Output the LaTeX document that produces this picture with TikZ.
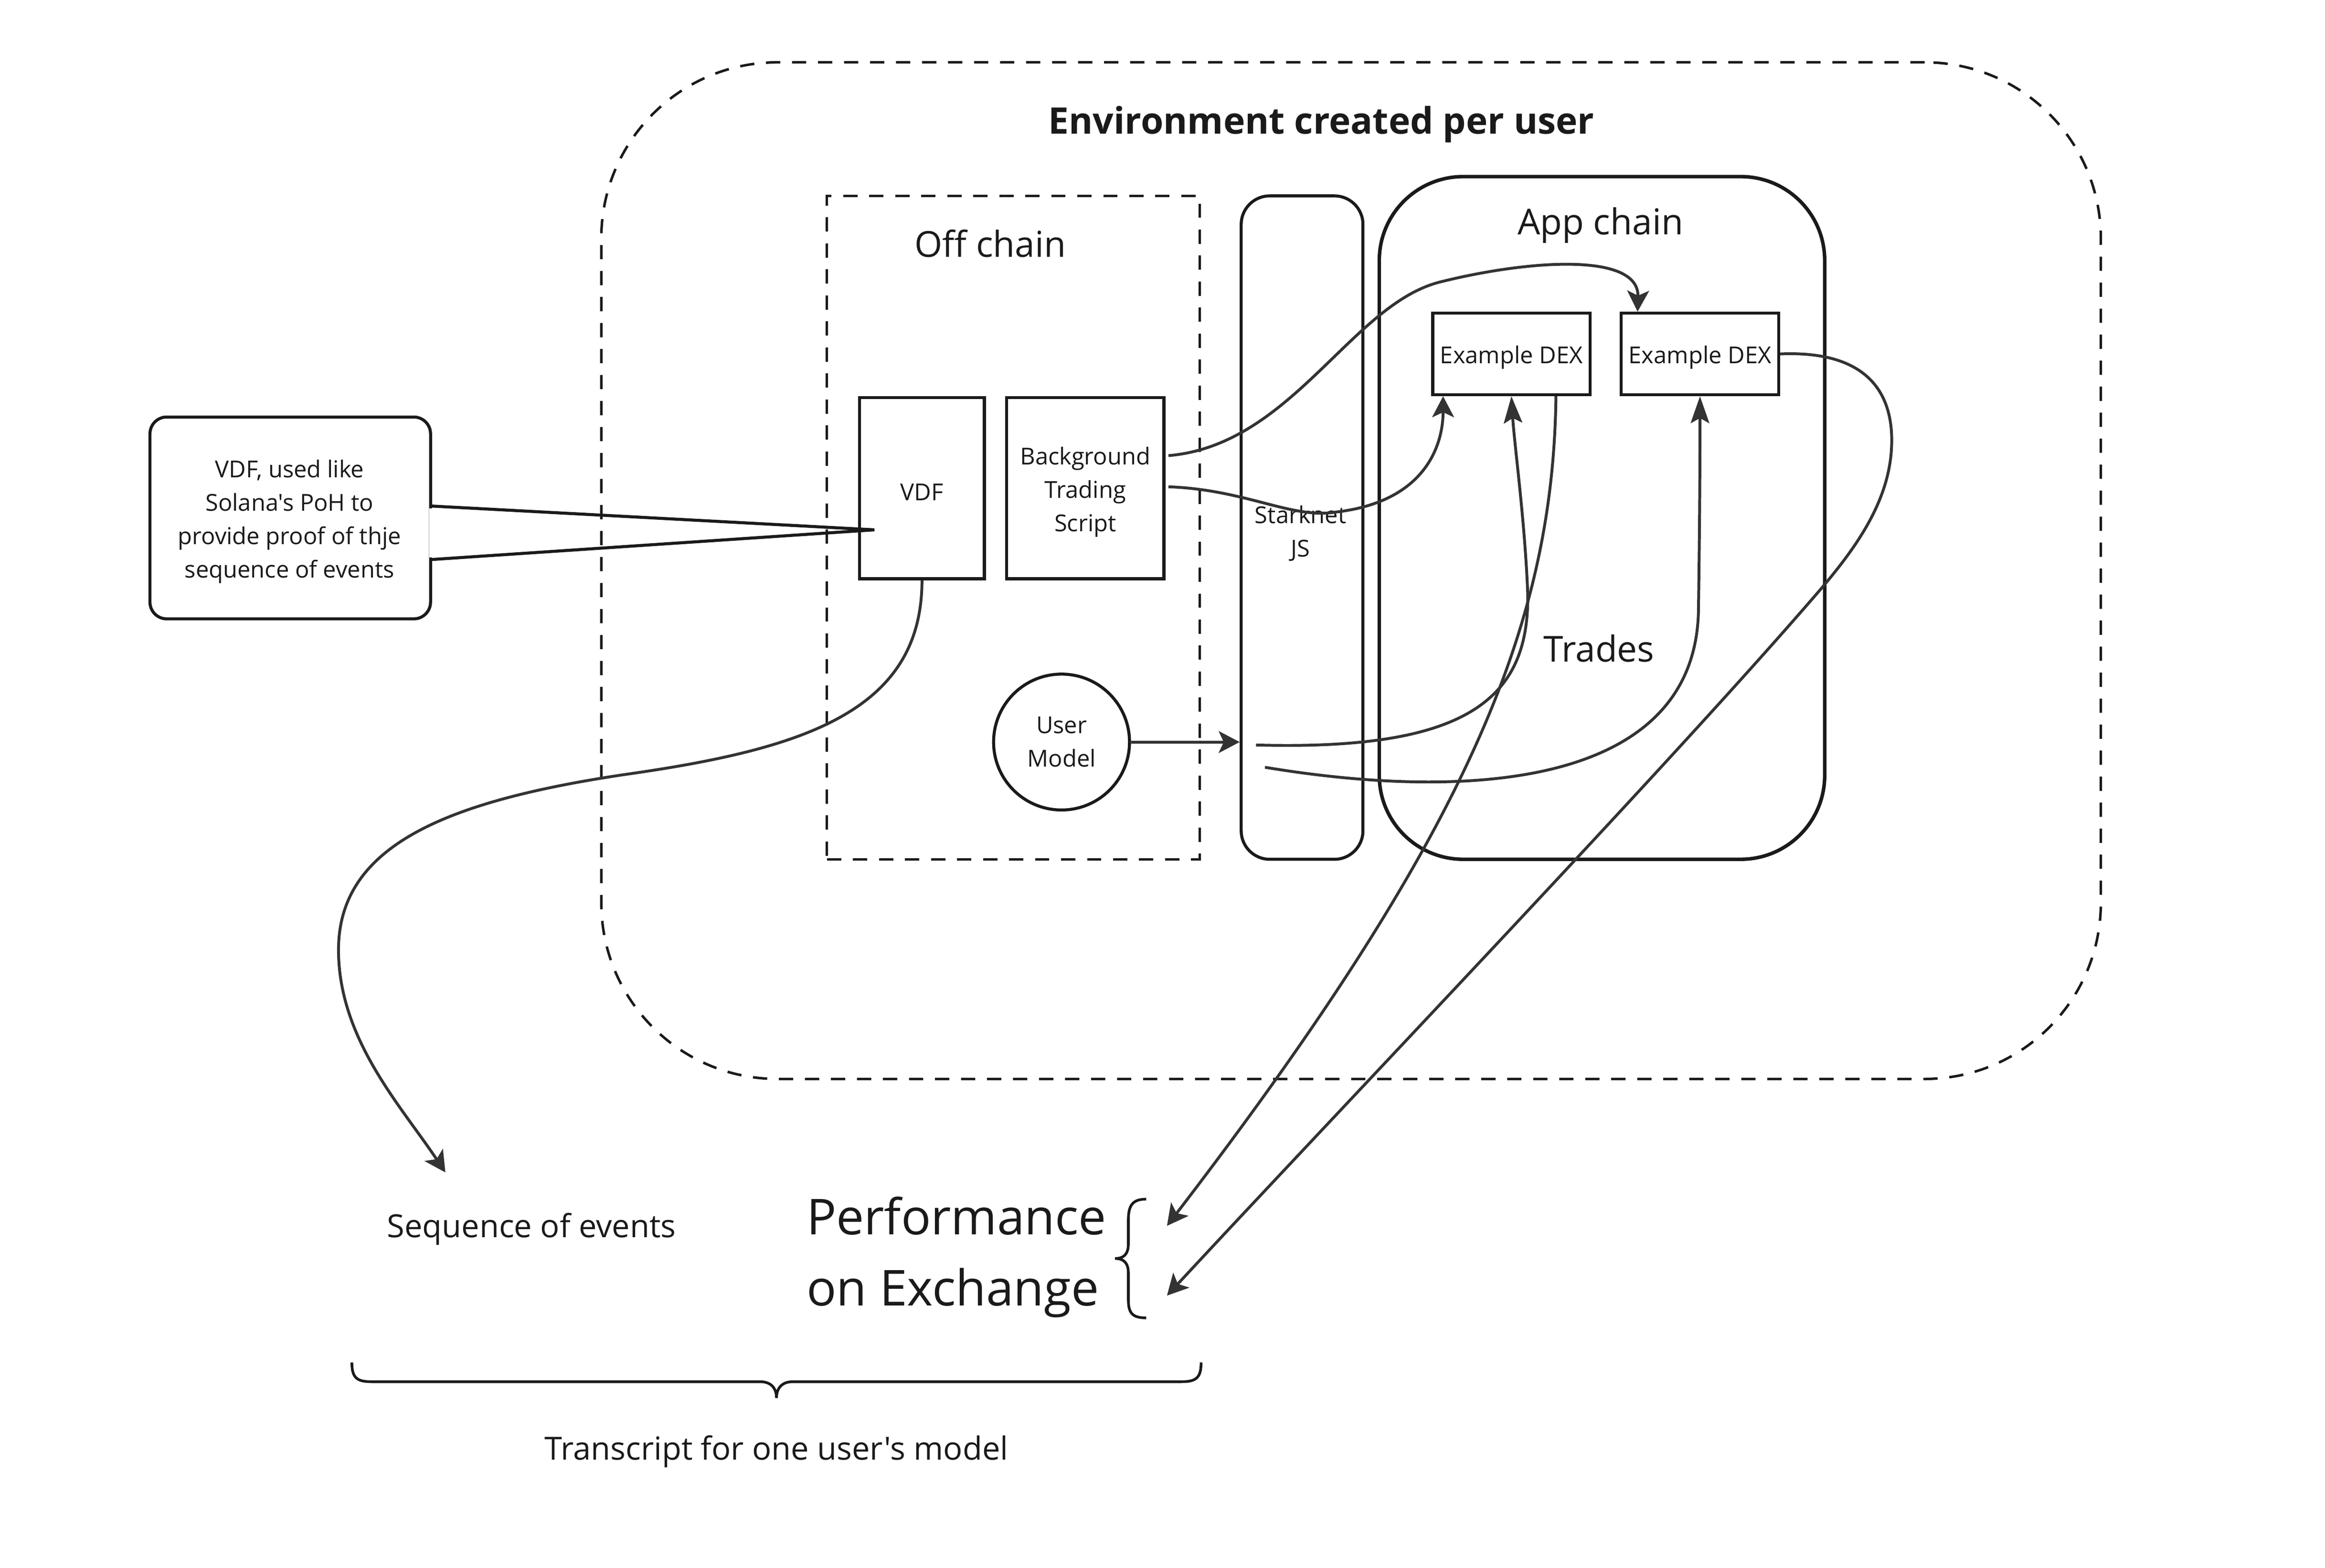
\documentclass[tikz,border=0pt]{standalone}
\usepackage{fontspec}
\setmainfont{Open Sans}[Ligatures=TeXOff]
\usetikzlibrary{arrows.meta,fit,calc}
\definecolor{ink}{HTML}{1A1A1A}
\definecolor{wire}{HTML}{333333}
\begin{document}
\begin{tikzpicture}[x=0.031092cm, y=-0.031092cm,
  box/.style={draw=ink, line width=1.8pt, inner sep=0pt, text=ink, align=center},
  dashbox/.style={draw=ink, line width=1.5pt, dash pattern=on 8.5pt off 7pt, inner sep=0pt},
  lbl/.style={text=ink, align=center, inner sep=0pt},
  small/.style={font=\fontsize{13.9}{19.9}\selectfont, yshift=-2.2pt},
  mid/.style={font=\fontsize{19}{23.8}\selectfont, yshift=-1.8pt},
  big/.style={font=\fontsize{21.3}{25.7}\selectfont},
  tipA/.tip={Stealth[length=12.5pt, width=13pt, inset=3pt]},
  tipB/.tip={Stealth[length=16pt, width=11pt, inset=3pt]},
  link/.style={draw=wire, line width=1.7pt, -tipA},
  linkB/.style={draw=wire, line width=1.7pt, -tipB},
  brace/.style={draw=ink, line width=1.6pt}
]
\useasboundingbox (0,0) rectangle (1566,1056.5);

% containers
\node[fit={(405,42)(1415,727)}, dashbox, rounded corners=105pt] (env) {};
\node[lbl, font=\fontsize{21.8}{25.7}\selectfont\bfseries, yshift=-2.5pt] (title) at (890,81) {Environment created per user};

\node[fit={(557,132)(808,579)}, dashbox] (off) {};
\node[lbl, big] (offlbl) at (667,164) {Off chain};

\node[fit={(836,132)(918,579)}, box, rounded corners=17pt] (sk) {};
\node[lbl, small] (sklbl) at (876,357) {Starknet\\JS};

\node[fit={(929,119)(1229,579)}, box, line width=2.1pt, rounded corners=50pt] (app) {};
\node[lbl, big, yshift=-2.5pt] (applbl) at (1078,149) {App chain};
\node[lbl, big] (trades) at (1077,437) {Trades};

% boxes
\node[fit={(965,211)(1071,266)}, box] (dex1) {};
\node[lbl, small] at (dex1.center) {Example DEX};
\node[fit={(1092,211)(1198,266)}, box] (dex2) {};
\node[lbl, small] at (dex2.center) {Example DEX};
\node[fit={(579,268)(663,390)}, box] (vdf) {};
\node[lbl, small] at (vdf.center) {VDF};
\node[fit={(678,268)(784,390)}, box] (bts) {};
\node[lbl, small] at (bts.center) {Background\\Trading\\Script};
\node[circle, draw=ink, line width=1.8pt, minimum size=81pt, inner sep=0pt, lbl, font=\fontsize{13.9}{19.9}\selectfont] (um) at (715,500) {User\\Model};

% callout
\node[fit={(101,281)(290,417)}, draw=ink, line width=1.8pt, rounded corners=10pt, inner sep=0pt] (callout) {};
\node[lbl, small] (calltext) at (195,349) {VDF, used like\\Solana's PoH to\\provide proof of thje\\sequence of events};
\coordinate (cA) at ($(callout.east)+(0,-8)$);
\coordinate (cB) at ($(callout.east)+(0,28)$);
\coordinate (ctip) at ($(vdf.west)+(11,28)$);
\fill[white] ($(cA)+(-2,1.5)$) rectangle ($(cB)+(2,-1.5)$);
\draw[ink, line width=1.8pt, line join=miter] (cA) -- (ctip) -- (cB);

% texts at the bottom
\node[lbl, mid] (seq) at (358,826) {Sequence of events};
\node[lbl, font=\fontsize{29.5}{42.5}\selectfont, align=left, anchor=west] (perf) at (543,847) {Performance\\on Exchange};
\node[lbl, mid] (transcript) at (523,976) {Transcript for one user's model};

\coordinate (seqtip) at (300,790);
\coordinate (perftip1) at (786,826);
\coordinate (perftip2) at (786,873);
\coordinate (s1) at (846,502);
\coordinate (s2) at (852,517);

% braces
\draw[brace] (772,808) .. controls (763,808) and (760,812) .. (760,822) -- (760,838)
  .. controls (760,845) and (757,848) .. (751,848)
  .. controls (757,848) and (760,851) .. (760,858) -- (760,876)
  .. controls (760,885) and (763,888) .. (772,888);
\draw[brace] (237,918) .. controls (237,928) and (240,931) .. (250,931) -- (512,931)
  .. controls (519,931) and (523,935) .. (523,942)
  .. controls (523,935) and (527,931) .. (534,931) -- (796,931)
  .. controls (806,931) and (809,928) .. (809,918);

% connectors
\draw[link] (vdf.south) .. controls (621,480) and (540,505) .. (420,522)
  .. controls (300,540) and (228,570) .. (228,640)
  .. controls (228,700) and (270,745) .. (seqtip);
\draw[link] ($(bts.east)+(2,-22)$) .. controls (870,300) and (910,205) .. (970,190)
  .. controls (1030,175) and (1104,170) .. ($(dex2.north west)+(12,0)$);
\draw[link] ($(bts.east)+(2,-1)$) .. controls (840,330) and (870,350) .. (900,345)
  .. controls (960,338) and (972,300) .. ($(dex1.south west)+(8,0)$);
\draw[link] (um.east) -- (sk.west |- um.east);
\draw[linkB] (s1) .. controls (990,506) and (1030,470) .. (1029,400)
  .. controls (1027,350) and (1020,300) .. (dex1.south);
\draw[linkB] (s2) .. controls (990,540) and (1143,530) .. (1144,410)
  .. controls (1145,340) and (1145,300) .. (dex2.south);
\draw[link] ($(dex1.south)+(30,0)$) .. controls (1046,420) and (990,560) .. (perftip1);
\draw[link] (dex2.east) .. controls (1258,236) and (1276,265) .. (1274,302)
  .. controls (1272,340) and (1248,372) .. (1222,402)
  .. controls (1120,520) and (900,750) .. (perftip2);
\end{tikzpicture}
\end{document}
